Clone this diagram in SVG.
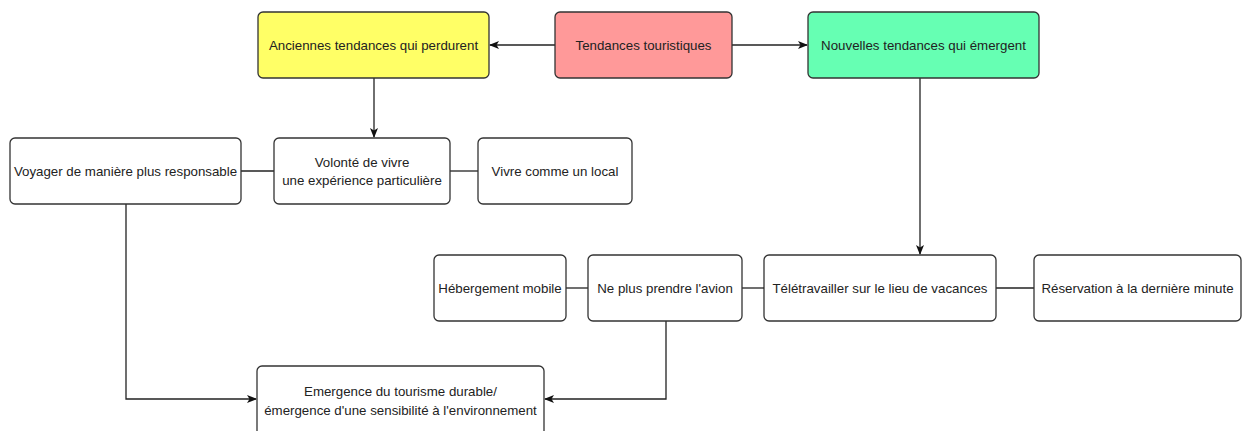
<svg xmlns="http://www.w3.org/2000/svg" width="1243" height="431" viewBox="0 0 1243 431">
<style>
.box{stroke:#333;stroke-width:1.3;fill:#fff}
.t{font-family:"Liberation Sans",Arial,sans-serif;font-size:13.3px;fill:#222;text-anchor:middle;dominant-baseline:central}
.c{stroke:#222;stroke-width:1.3;fill:none}
</style>
<defs>
<marker id="arr" markerWidth="10" markerHeight="10" refX="9" refY="5" orient="auto" markerUnits="userSpaceOnUse">
<path d="M0,1 L10,5 L0,9 L2.5,5 z" fill="#111"/>
</marker>
</defs>
<g id="connectors">
<line class="c" x1="555" y1="45" x2="490" y2="45" marker-end="url(#arr)"/>
<line class="c" x1="732" y1="45" x2="807" y2="45" marker-end="url(#arr)"/>
<line class="c" x1="374" y1="78" x2="374" y2="137" marker-end="url(#arr)"/>
<line class="c" x1="920" y1="78" x2="920" y2="254" marker-end="url(#arr)"/>
<line class="c" x1="241" y1="171" x2="274" y2="171"/>
<line class="c" x1="450" y1="171" x2="478" y2="171"/>
<line class="c" x1="566" y1="288" x2="588" y2="288"/>
<line class="c" x1="742" y1="288" x2="764" y2="288"/>
<line class="c" x1="996" y1="288" x2="1034" y2="288"/>
<polyline class="c" points="126,204 126,399 256,399" marker-end="url(#arr)"/>
<polyline class="c" points="666,321 666,399 545,399" marker-end="url(#arr)"/>
</g>
<g id="n-anciennes"><rect class="box" x="258" y="12" width="231" height="66" rx="5" style="fill:#ffff66"/><text class="t" x="373.5" y="45">Anciennes tendances qui perdurent</text></g>
<g id="n-tendances"><rect class="box" x="555" y="12" width="177" height="66" rx="5" style="fill:#ff9999"/><text class="t" x="643.5" y="45">Tendances touristiques</text></g>
<g id="n-nouvelles"><rect class="box" x="808" y="12" width="231" height="66" rx="5" style="fill:#66ffb3"/><text class="t" x="923.5" y="45">Nouvelles tendances qui émergent</text></g>
<g id="n-voyager"><rect class="box" x="10" y="138" width="231" height="66" rx="5"/><text class="t" x="125.5" y="171">Voyager de manière plus responsable</text></g>
<g id="n-volonte"><rect class="box" x="274" y="138" width="176" height="66" rx="5"/><text class="t" x="362" y="162">Volonté de vivre</text><text class="t" x="362" y="180">une expérience particulière</text></g>
<g id="n-local"><rect class="box" x="478" y="138" width="154" height="66" rx="5"/><text class="t" x="555" y="171">Vivre comme un local</text></g>
<g id="n-hebergement"><rect class="box" x="434" y="255" width="132" height="66" rx="5"/><text class="t" x="500" y="288">Hébergement mobile</text></g>
<g id="n-avion"><rect class="box" x="588" y="255" width="154" height="66" rx="5"/><text class="t" x="665" y="288">Ne plus prendre l'avion</text></g>
<g id="n-teletravail"><rect class="box" x="764" y="255" width="232" height="66" rx="5"/><text class="t" x="880" y="288">Télétravailler sur le lieu de vacances</text></g>
<g id="n-reservation"><rect class="box" x="1034" y="255" width="207" height="66" rx="5"/><text class="t" x="1137.5" y="288">Réservation à la dernière minute</text></g>
<g id="n-emergence"><rect class="box" x="257" y="366" width="287" height="70" rx="5"/><text class="t" x="400.5" y="391">Emergence du tourisme durable/</text><text class="t" x="400.5" y="410">émergence d'une sensibilité à l'environnement</text></g>
</svg>
